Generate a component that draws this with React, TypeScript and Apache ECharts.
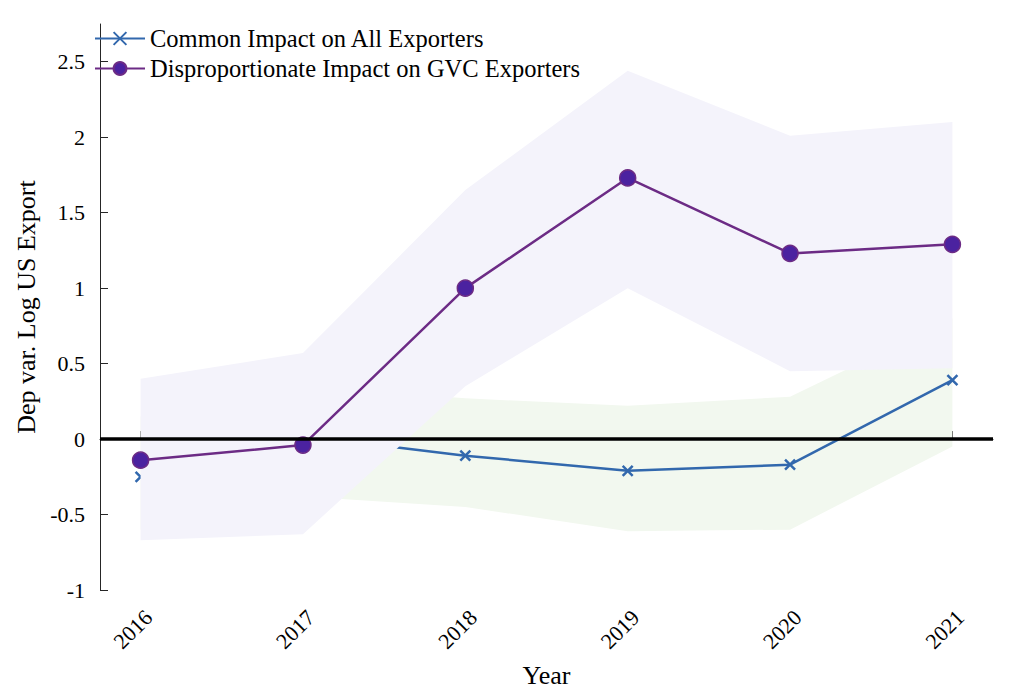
import React, { useEffect, useRef } from "react";
import * as echarts from "echarts";

const years = [2016, 2017, 2018, 2019, 2020, 2021];
const commonImpact = [-0.25, 0.02, -0.11, -0.21, -0.17, 0.39];
const gvcImpact = [-0.14, -0.04, 1.0, 1.73, 1.23, 1.29];
const commonLower = [-0.6, -0.38, -0.45, -0.61, -0.6, -0.05];
const commonUpper = [0.15, 0.35, 0.27, 0.22, 0.28, 0.8];
const gvcLower = [-0.67, -0.63, 0.35, 1.0, 0.45, 0.47];
const gvcUpper = [0.4, 0.57, 1.65, 2.44, 2.01, 2.1];
const yTicks = [-1, -0.5, 0, 0.5, 1, 1.5, 2, 2.5];

const FONT = "'Liberation Serif', 'Times New Roman', serif";

function bandSeries(name: string, lower: number[], upper: number[], color: string, z: number) {
  return {
    name,
    type: "custom",
    z,
    silent: true,
    data: [[years[0], lower[0]]],
    renderItem: (_params: any, api: any) => {
      const pts: number[][] = [];
      years.forEach((y, i) => pts.push(api.coord([y, upper[i]])));
      for (let i = years.length - 1; i >= 0; i--) pts.push(api.coord([years[i], lower[i]]));
      return {
        type: "polygon",
        shape: { points: pts },
        style: { fill: color, stroke: "none" },
      };
    },
  };
}

export default function App() {
  const ref = useRef<HTMLDivElement>(null);
  useEffect(() => {
    if (!ref.current) return;
    const chart = echarts.init(ref.current, undefined, { renderer: "svg" });
    const blue = "#3268ad";
    const purple = "#6c2b85";
    chart.setOption({
      animation: false,
      backgroundColor: "#ffffff",
      textStyle: { fontFamily: FONT },
      grid: { left: 100, right: 16, top: 24, bottom: 103 },
      legend: {
        left: 94,
        top: 26,
        padding: 0,
        orient: "vertical",
        itemWidth: 50,
        itemHeight: 16,
        itemGap: 5,
        data: ["Common Impact on All Exporters", "Disproportionate Impact on GVC Exporters"],
        textStyle: { fontFamily: FONT, fontSize: 24.5, color: "#000" },
      },
      xAxis: {
        type: "value",
        min: 2015.75,
        max: 2021.25,
        name: "Year",
        nameLocation: "middle",
        nameGap: 72,
        nameTextStyle: { fontFamily: FONT, fontSize: 26, color: "#000" },
        splitLine: { show: false },
        axisLine: { lineStyle: { color: "#262626", width: 1 } },
        axisTick: { inside: true, length: 8, lineStyle: { color: "#262626" }, customValues: years },
        axisLabel: {
          customValues: years,
          rotate: 45,
          margin: 16,
          verticalAlign: "top",
          fontFamily: FONT,
          fontSize: 22,
          color: "#000",
          formatter: (v: number) => String(v),
        },
      },
      yAxis: {
        type: "value",
        min: -1,
        max: 2.75,
        name: "Dep var. Log US Export",
        nameLocation: "middle",
        nameGap: 50,
        nameTextStyle: { fontFamily: FONT, fontSize: 26, color: "#000" },
        splitLine: { show: false },
        axisLine: { show: true, lineStyle: { color: "#262626", width: 1 } },
        axisTick: { show: true, inside: true, length: 8, lineStyle: { color: "#262626" }, customValues: yTicks },
        axisLabel: {
          customValues: yTicks,
          margin: 15,
          fontFamily: FONT,
          fontSize: 22,
          color: "#000",
        },
      },
      series: [
        bandSeries("commonBand", commonLower, commonUpper, "#f2f8ef", 1),
        {
          name: "Common Impact on All Exporters",
          type: "line",
          z: 2,
          data: years.map((y, i) => [y, commonImpact[i]]),
          symbol: "path://M0 0L10 10M10 0L0 10",
          symbolSize: 10,
          lineStyle: { color: blue, width: 2.5 },
          itemStyle: { color: blue, borderColor: blue, borderWidth: 2.5 },
        },
        bandSeries("gvcBand", gvcLower, gvcUpper, "#f4f3fb", 3),
        {
          name: "Disproportionate Impact on GVC Exporters",
          type: "line",
          z: 4,
          data: years.map((y, i) => [y, gvcImpact[i]]),
          symbol: "circle",
          symbolSize: 16,
          lineStyle: { color: purple, width: 2.5 },
          itemStyle: { color: "#4b22a0", borderColor: purple, borderWidth: 1.5 },
        },
        {
          name: "zero",
          type: "line",
          z: 5,
          silent: true,
          symbol: "none",
          data: [[2015.75, 0], [2021.25, 0]],
          lineStyle: { color: "#000", width: 3.5 },
        },
      ],
    });
    return () => chart.dispose();
  }, []);
  return <div ref={ref} style={{ width: 1009, height: 693, marginLeft: -8, marginTop: -8 }} />;
}
